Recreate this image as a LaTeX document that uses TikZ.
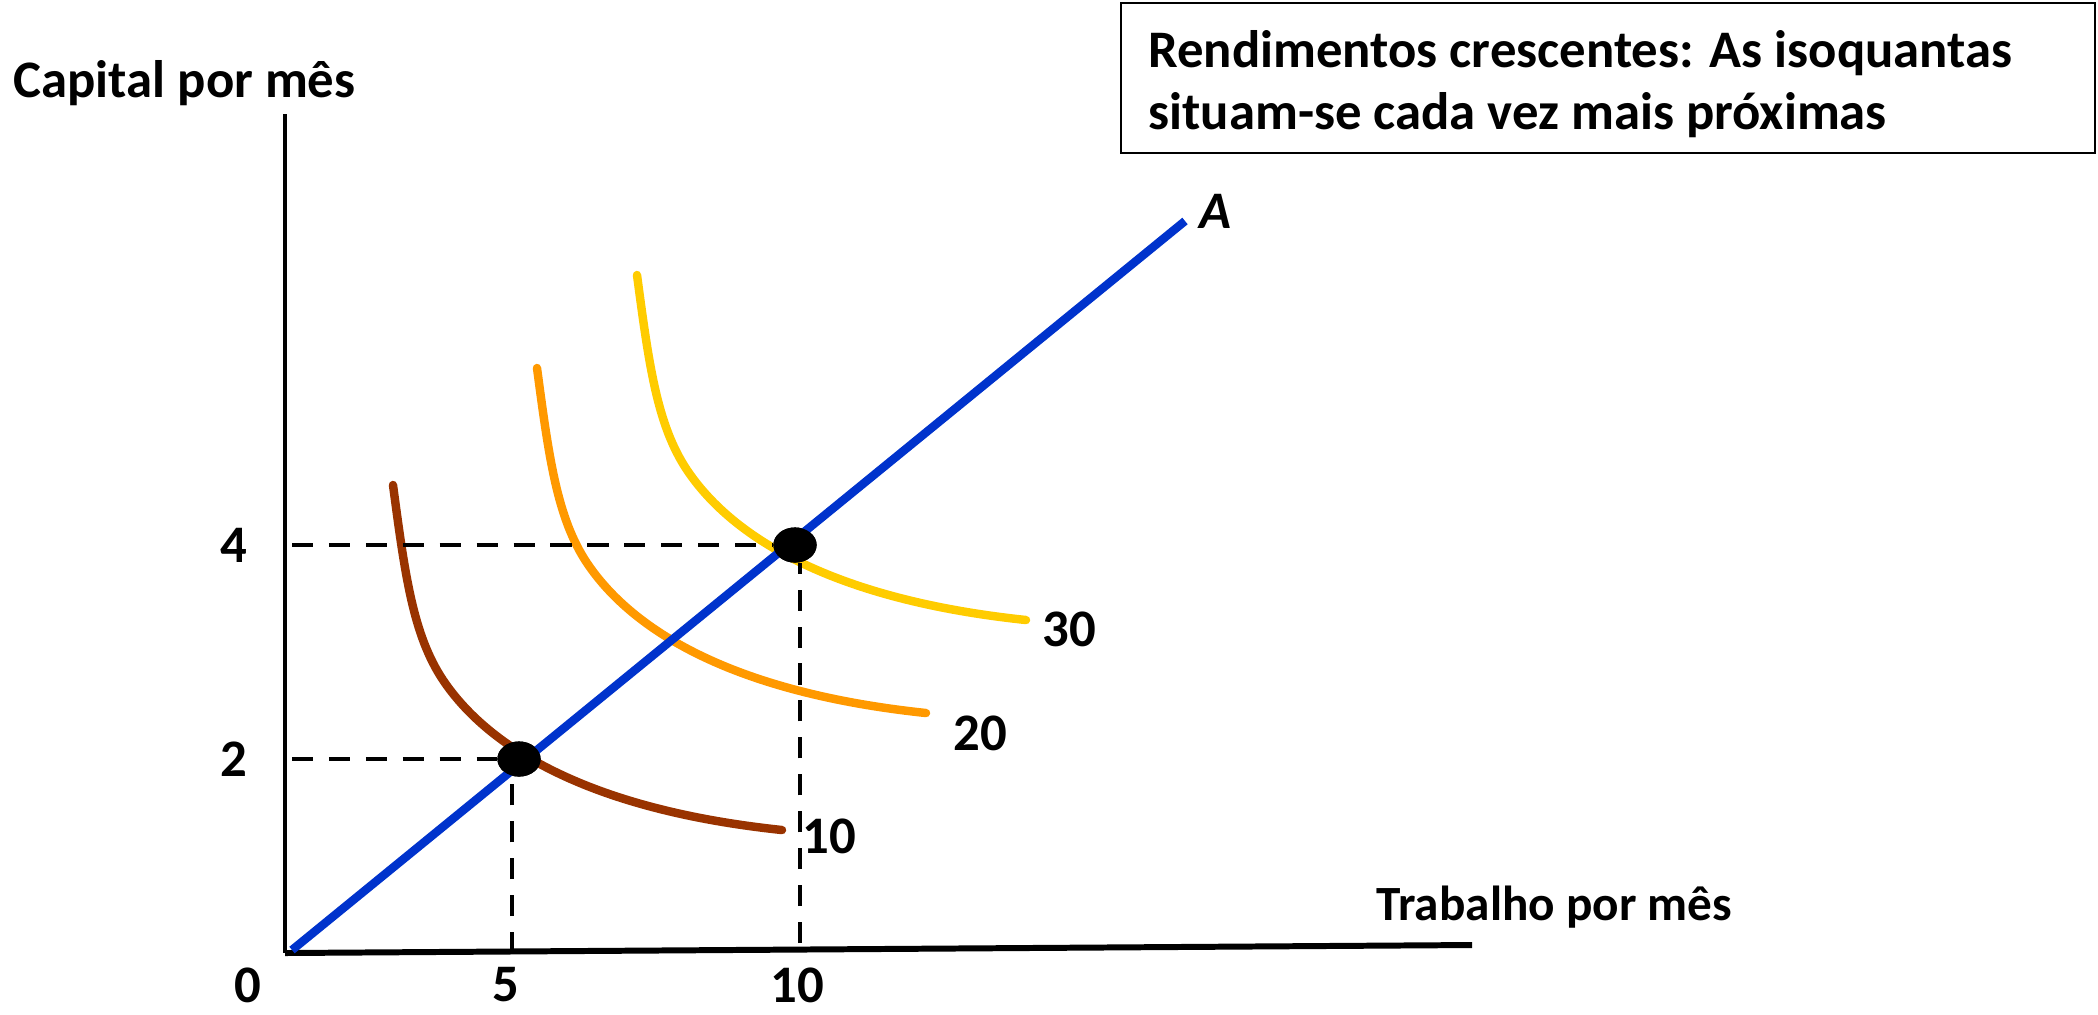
\documentclass[tikz,border=0pt]{standalone}
\usepackage{fontspec}
\setmainfont{Carlito}
\usetikzlibrary{positioning,shapes.geometric}

\definecolor{isoten}{HTML}{993300}
\definecolor{isotwenty}{HTML}{FF9900}
\definecolor{isothirty}{HTML}{FFCC00}
\definecolor{rayblue}{HTML}{0033CC}

\begin{document}
\begin{tikzpicture}[x=0.01cm,y=-0.01cm,font=\fontsize{15}{17.5}\selectfont\bfseries,
    iso/.style={line width=2.4pt, line cap=round},
    guide/.style={dash pattern=on 6pt off 4.5pt, line width=1.4pt},
    tick/.style={inner sep=0pt},
    dot/.style={ellipse, fill=black, inner sep=0pt, minimum width=12.3pt, minimum height=10pt}]
    \useasboundingbox (0,0) rectangle (2098,1014);

    % Axes
    \coordinate (origin) at (285,953);
    \coordinate (ytop) at (285,114);
    \coordinate (xend) at (1472,945);
    \draw[line width=1.3pt] (ytop) -- (origin);
    \draw[line width=1.7pt] (origin) -- (xend);
    \node[anchor=west, inner sep=0pt] (ylabel) at (13,83) {Capital por mês};
    \node[anchor=west, inner sep=0pt, font=\fontsize{14}{17}\selectfont\bfseries] (xlabel) at (1376,907) {Trabalho por mês};

    % Tick labels
    \node[tick] (t0) at (248,985) {0};
    \node[tick] (t5) at (506,985) {5};
    \node[tick] (t10) at (797,985) {10};
    \node[tick] (t2) at (234,759) {2};
    \node[tick] (t4) at (234,545) {4};

    % Isoquants (same shape, shifted)
    \foreach \sx/\sy/\col in {393/485/isoten, 537/368/isotwenty, 637/275/isothirty}
      \draw[iso,\col,shift={(\sx,\sy)}] (0,0) .. controls (12,90) and (20,150) .. (50,195)
        .. controls (97,265) and (200,325) .. (389,345);
    \node (q10) at (829,836) {10};
    \node (q20) at (980,733) {20};
    \node (q30) at (1069,629) {30};

    % Points on the ray
    \node[dot] (p1) at (519,759) {};
    \node[dot] (p2) at (795,545) {};

    % Dashed guides
    \coordinate (y2) at (292,759);
    \coordinate (y4) at (292,545);
    \coordinate (x5) at (512,953);
    \coordinate (x10) at (800,943);
    \draw[guide] (y2) -- (p1.west);
    \draw[guide] (y4) -- (p2.west);
    \draw[guide] (x5) -- (x5 |- p1.south);
    \draw[guide] (x10) -- (x10 |- p2.south);

    % Ray A
    \coordinate (aend) at (1185,221);
    \draw[rayblue, line width=2.4pt] (292,950) -- (aend);
    \node[font=\fontsize{15}{17.5}\selectfont\bfseries\itshape] (alabel) at (1215,211) {A};
    \node[dot] at (p1) {};
    \node[dot] at (p2) {};

    % Title box
    \draw[line width=0.6pt] (1121,3) rectangle (2095,153);
    \node[anchor=west, align=left] (title) at (1136,84) {Rendimentos crescentes: As isoquantas\\situam-se cada vez mais próximas};
\end{tikzpicture}
\end{document}
